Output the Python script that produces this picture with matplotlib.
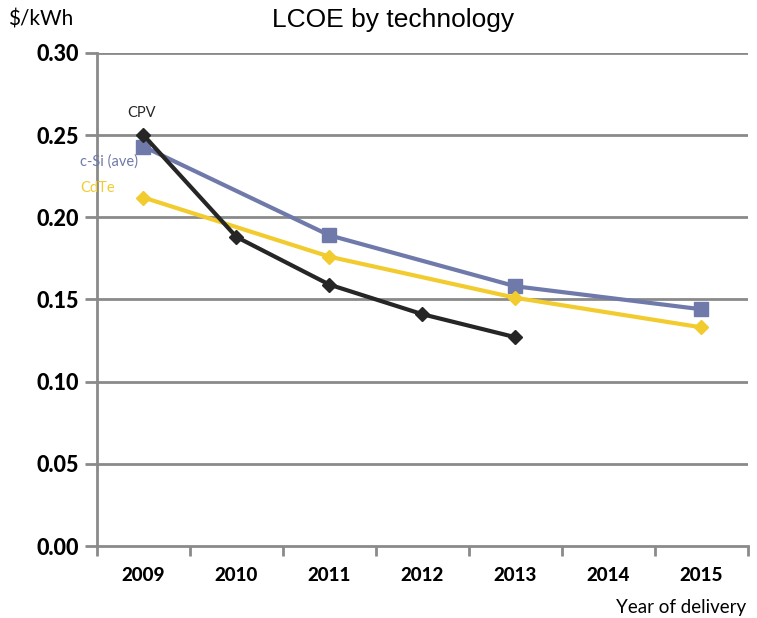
import matplotlib
matplotlib.use('Agg')
import numpy as np
import matplotlib.pyplot as plt

# datos
years = ['2009', '2010', '2011', '2012', '2013', '2014', '2015']
cpv_x = [0, 1, 2, 3, 4]
cpv = [0.250, 0.188, 0.159, 0.141, 0.127]
csi_x = [0, 2, 4, 6]
csi = [0.243, 0.189, 0.158, 0.144]
cdte_x = [0, 2, 4, 6]
cdte = [0.212, 0.176, 0.151, 0.133]
yticks = [0.00, 0.05, 0.10, 0.15, 0.20, 0.25, 0.30]

c_cpv = '#262626'
c_csi = '#6f7aaa'
c_cdte = '#f2cb2f'
grid_c = '#8a8a8a'

fig = plt.figure(figsize=(7.57, 6.18), dpi=100)
ax = fig.add_axes([0.128, 0.1165, 0.86, 0.798])

for yv in yticks[1:]:
    ax.axhline(yv, color=grid_c, lw=2, zorder=1)

ax.plot(csi_x, csi, color=c_csi, lw=3, marker='s', ms=10, zorder=3)
ax.plot(cdte_x, cdte, color=c_cdte, lw=3, marker='D', ms=7, zorder=3)
ax.plot(cpv_x, cpv, color=c_cpv, lw=3, marker='D', ms=7, zorder=4)

ax.set_xlim(-0.5, 6.5)
ax.set_ylim(0, 0.30)

ax.set_yticks(yticks)
ax.set_yticklabels([f'{v:.2f}' for v in yticks], fontsize=15.5, fontweight='black', family='Lato')
ax.tick_params(axis='y', length=9, width=2, color=grid_c, pad=4)

ax.set_xticks(range(len(years)))
ax.set_xticklabels(years, fontsize=13.5, fontweight='black', family='Lato')
ax.set_xticks(np.arange(-0.5, 7, 1), minor=True)
ax.tick_params(axis='x', which='major', length=0, pad=15)
ax.tick_params(axis='x', which='minor', length=7, width=2, color=grid_c)

for s in ['top', 'right']:
    ax.spines[s].set_visible(False)
for s in ['left', 'bottom']:
    ax.spines[s].set_color(grid_c)
    ax.spines[s].set_linewidth(2)

# etiquetas de las series
ax.text(-0.02, 0.259, 'CPV', color=c_cpv, fontsize=10.5, ha='center', va='bottom', family='Lato')
ax.text(-0.68, 0.234, 'c-Si (ave)', color=c_csi, fontsize=10.5, ha='left', va='center', family='Lato')
ax.text(-0.68, 0.218, 'CdTe', color=c_cdte, fontsize=10.5, ha='left', va='center', family='Lato')

fig.text(0.519, 0.968, 'LCOE by technology', fontsize=19, ha='center', va='center', family='Liberation Sans')
fig.text(0.010, 0.968, '$/kWh', fontsize=15, ha='left', va='center', family='Lato')
fig.text(0.985, 0.004, 'Year of delivery', fontsize=13.5, ha='right', va='bottom', family='Lato')

plt.savefig('out.png', dpi=100)
plt.close()
